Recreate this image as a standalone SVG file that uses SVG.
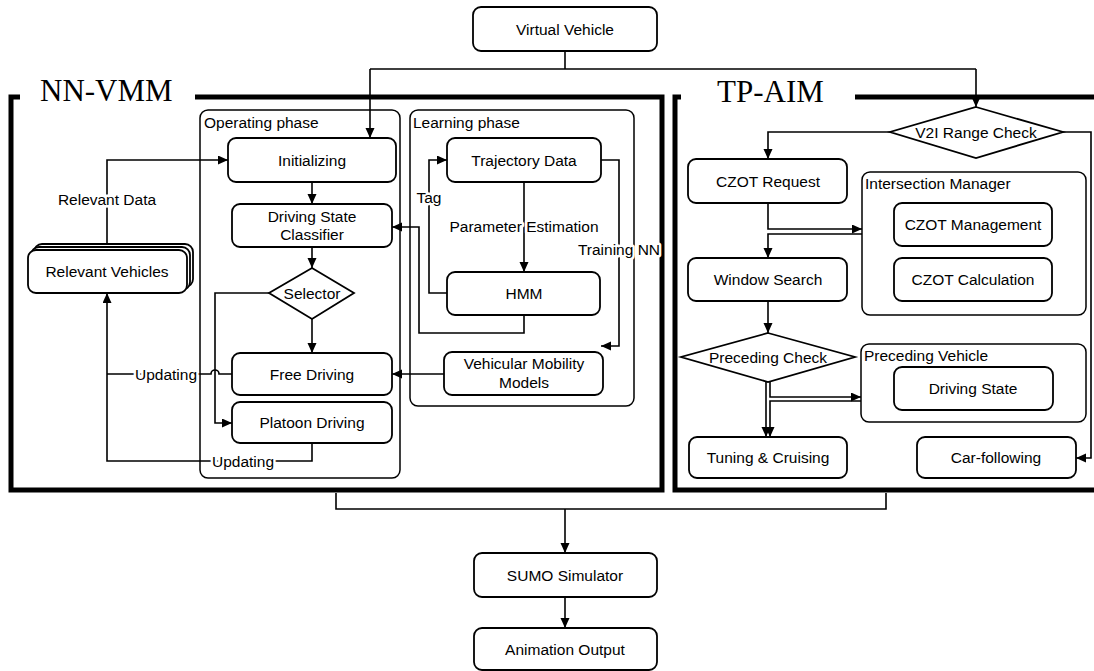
<svg xmlns="http://www.w3.org/2000/svg" width="1094" height="671" viewBox="0 0 1094 671">
<style>
text{font-family:"Liberation Sans",Arial,sans-serif;font-size:15.5px;fill:#000}
.c{text-anchor:middle}
.t{font-family:"Liberation Serif","Times New Roman",serif;font-size:31px}
.n{fill:#fff;stroke:#000;stroke-width:1.8}
.g{fill:none;stroke:#000;stroke-width:1.5}
.f{fill:none;stroke:#000;stroke-width:5;stroke-linejoin:miter}
.e{fill:none;stroke:#000;stroke-width:1.6}
.lb{paint-order:stroke;stroke:#fff;stroke-width:5px;stroke-linejoin:round}
</style>
<defs>
<marker id="a" markerUnits="userSpaceOnUse" markerWidth="11" markerHeight="10" refX="10" refY="4.5" orient="auto"><path d="M0,0 L10,4.5 L0,9 z" fill="#000"/></marker>
</defs>
<rect width="1094" height="671" fill="#fff"/>
<g id="frames">
<path class="f" d="M20,97 H11 V490 H662 V97 H195"/>
<text class="t" x="40" y="101">NN-VMM</text>
<path class="f" d="M681,97 H675 V490 H1100 M855,97 H1100"/>
<text class="t" x="717" y="102">TP-AIM</text>
</g>
<g id="containers">
<g id="operating-phase"><rect class="g" x="200" y="110" width="200" height="368" rx="8"/><text x="204" y="128">Operating phase</text></g>
<g id="learning-phase"><rect class="g" x="410" y="110" width="224" height="296" rx="8"/><text x="413" y="128">Learning phase</text></g>
<g id="intersection-manager"><rect class="g" x="862" y="172" width="224" height="143" rx="8"/><text x="865" y="189">Intersection Manager</text></g>
<g id="preceding-vehicle"><rect class="g" x="861" y="344" width="225" height="78" rx="8"/><text x="864" y="361">Preceding Vehicle</text></g>
</g>
<g id="connectors" class="e">
<path d="M565,51 V69 M370,69 H976"/>
<path d="M370,69 V138" marker-end="url(#a)"/>
<path d="M976,69 V107" marker-end="url(#a)"/>
<path d="M107,244 V160 H228" marker-end="url(#a)"/>
<path d="M312,182 V204" marker-end="url(#a)"/>
<path d="M312,247 V268" marker-end="url(#a)"/>
<path d="M312,319 V353" marker-end="url(#a)"/>
<path d="M269,293 H215 V423 H232" marker-end="url(#a)"/>
<path d="M232,374 H219 A4,4 0 0 0 211,374 H107"/>
<path d="M312,443 V461 H107 V293" marker-end="url(#a)"/>
<path d="M447,293 H429 V160 H447" marker-end="url(#a)"/>
<path d="M524,182 V272" marker-end="url(#a)"/>
<path d="M524,315 V333 H419 V227 H392" marker-end="url(#a)"/>
<path d="M601,160 H619 V346 H601" marker-end="url(#a)"/>
<path d="M444,374 H392" marker-end="url(#a)"/>
<path d="M890,132 H768 V159" marker-end="url(#a)"/>
<path d="M1063,132 H1091 V458 H1076" marker-end="url(#a)"/>
<path d="M768,203 V229 H862" marker-end="url(#a)"/>
<path d="M862,234 H768 V258" marker-end="url(#a)"/>
<path d="M768,301 V333" marker-end="url(#a)"/>
<path d="M770,382 V397 H861" marker-end="url(#a)"/>
<path d="M861,401 H770 V437" marker-end="url(#a)"/>
<path d="M766,382 V437" marker-end="url(#a)"/>
<path d="M336,493 V509 H886 V493"/>
<path d="M565,509 V553" marker-end="url(#a)"/>
<path d="M565,597 V628" marker-end="url(#a)"/>
</g>
<g id="labels">
<text class="c lb" x="107" y="204.5">Relevant Data</text>
<text class="c lb" x="166" y="379.5">Updating</text>
<text class="c lb" x="243" y="466.5">Updating</text>
<text class="c lb" x="429" y="202.5">Tag</text>
<text class="c lb" x="524" y="231.5">Parameter Estimation</text>
<text class="c lb" x="619" y="255">Training NN</text>
</g>
<g id="virtual-vehicle"><rect class="n" x="473" y="7" width="184" height="44" rx="8"/><text class="c" x="565" y="34.5">Virtual Vehicle</text></g>
<g id="initializing"><rect class="n" x="228" y="138" width="168" height="44" rx="8"/><text class="c" x="312" y="165.5">Initializing</text></g>
<g id="driving-state-classifier"><rect class="n" x="232" y="204" width="160" height="43" rx="8"/><text class="c" x="312" y="221.5">Driving State</text><text class="c" x="312" y="239.5">Classifier</text></g>
<g id="selector"><polygon class="n" points="312,268 354,293 312,319 269,293"/><text class="c" x="312" y="298.5">Selector</text></g>
<g id="free-driving"><rect class="n" x="232" y="353" width="160" height="42" rx="8"/><text class="c" x="312" y="379.5">Free Driving</text></g>
<g id="platoon-driving"><rect class="n" x="232" y="402" width="160" height="41" rx="8"/><text class="c" x="312" y="428">Platoon Driving</text></g>
<g id="relevant-vehicles"><rect class="n" x="34" y="244" width="159" height="43" rx="8"/><rect class="n" x="31" y="247" width="159" height="43" rx="8"/><rect class="n" x="28" y="250" width="159" height="43" rx="8"/><text class="c" x="107" y="277">Relevant Vehicles</text></g>
<g id="trajectory-data"><rect class="n" x="447" y="138" width="154" height="44" rx="8"/><text class="c" x="524" y="165.5">Trajectory Data</text></g>
<g id="hmm"><rect class="n" x="447" y="272" width="153" height="43" rx="8"/><text class="c" x="524" y="299">HMM</text></g>
<g id="vehicular-mobility-models"><rect class="n" x="444" y="352" width="159" height="43" rx="8"/><text class="c" x="524" y="368.5">Vehicular Mobility</text><text class="c" x="524" y="387.5">Models</text></g>
<g id="v2i-range-check"><polygon class="n" points="976,107 1063,132 976,158 890,132"/><text class="c" x="976" y="137.5">V2I Range Check</text></g>
<g id="czot-request"><rect class="n" x="688" y="159" width="159" height="44" rx="8"/><text class="c" x="768" y="186.5">CZOT Request</text></g>
<g id="czot-management"><rect class="n" x="894" y="203" width="158" height="43" rx="8"/><text class="c" x="973" y="230">CZOT Management</text></g>
<g id="czot-calculation"><rect class="n" x="894" y="258" width="158" height="43" rx="8"/><text class="c" x="973" y="285">CZOT Calculation</text></g>
<g id="window-search"><rect class="n" x="688" y="258" width="159" height="43" rx="8"/><text class="c" x="768" y="285">Window Search</text></g>
<g id="preceding-check"><polygon class="n" points="768,333 855,357 768,382 681,357"/><text class="c" x="768" y="362.5">Preceding Check</text></g>
<g id="driving-state"><rect class="n" x="894" y="367" width="159" height="43" rx="8"/><text class="c" x="973" y="394">Driving State</text></g>
<g id="tuning-cruising"><rect class="n" x="689" y="437" width="158" height="41" rx="8"/><text class="c" x="768" y="463">Tuning &amp; Cruising</text></g>
<g id="car-following"><rect class="n" x="917" y="437" width="159" height="41" rx="8"/><text class="c" x="996" y="463">Car-following</text></g>
<g id="sumo-simulator"><rect class="n" x="474" y="553" width="183" height="44" rx="8"/><text class="c" x="565" y="580.5">SUMO Simulator</text></g>
<g id="animation-output"><rect class="n" x="474" y="628" width="183" height="42" rx="8"/><text class="c" x="565" y="654.5">Animation Output</text></g>
</svg>
